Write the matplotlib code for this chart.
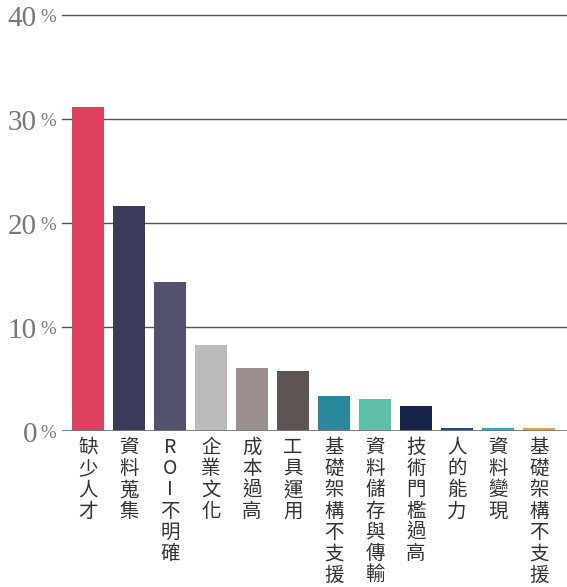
import matplotlib.pyplot as plt

plt.rcParams['font.family'] = ['Noto Sans CJK TC', 'DejaVu Sans']

categories = ['缺少人才', '資料蒐集', 'ROI不明確', '企業文化', '成本過高', '工具運用',
              '基礎架構不支援', '資料儲存與傳輸', '技術門檻過高', '人的能力', '資料變現', '基礎架構不支援']
values = [31.2, 21.6, 14.3, 8.3, 6.1, 5.8, 3.4, 3.1, 2.4, 0.3, 0.3, 0.3]
colors = ['#E0405F', '#3A3A5A', '#525270', '#BBBBBB', '#9E8F8F', '#5E5452',
          '#2A879C', '#5DBFA8', '#152549', '#1E4E80', '#27A8E0', '#E8A040']
yticks = [0, 10, 20, 30, 40]

fig = plt.figure(figsize=(5.67, 5.87), dpi=100)
ax = fig.add_axes([62/567, 1 - 431/587, 505/567, 416/587])

x = list(range(len(values)))
ax.bar(x, values, width=0.78, color=colors, zorder=3)
ax.set_xlim(-0.634, 11.68)
ax.set_ylim(0, 40)

# gridlines
for t in yticks[1:]:
    ax.axhline(t, color='#555555', lw=1, zorder=1, clip_on=False)
ax.axhline(0, color='#777777', lw=2, zorder=4)

for s in ax.spines.values():
    s.set_visible(False)
ax.set_xticks([])
ax.set_yticks([])

# y tick labels: big number + small %
for t in yticks:
    ax.annotate(str(t), xy=(0, t), xycoords=('axes fraction', 'data'),
                xytext=(-18, -7.8), textcoords='offset points',
                ha='right', va='baseline', fontsize=21, color='#777777',
                family='Liberation Serif')
    ax.annotate('%', xy=(0, t), xycoords=('axes fraction', 'data'),
                xytext=(-15.5, -4.8), textcoords='offset points',
                ha='left', va='baseline', fontsize=13.5, color='#777777',
                family='Liberation Serif')

# vertical category labels
for i, c in enumerate(categories):
    ax.annotate('\n'.join(c), xy=(i, 0), xycoords='data',
                xytext=(0, -4), textcoords='offset points',
                ha='center', va='top', fontsize=14, color='#333333',
                linespacing=1.02, annotation_clip=False)

fig.savefig('out.png', dpi=100)
